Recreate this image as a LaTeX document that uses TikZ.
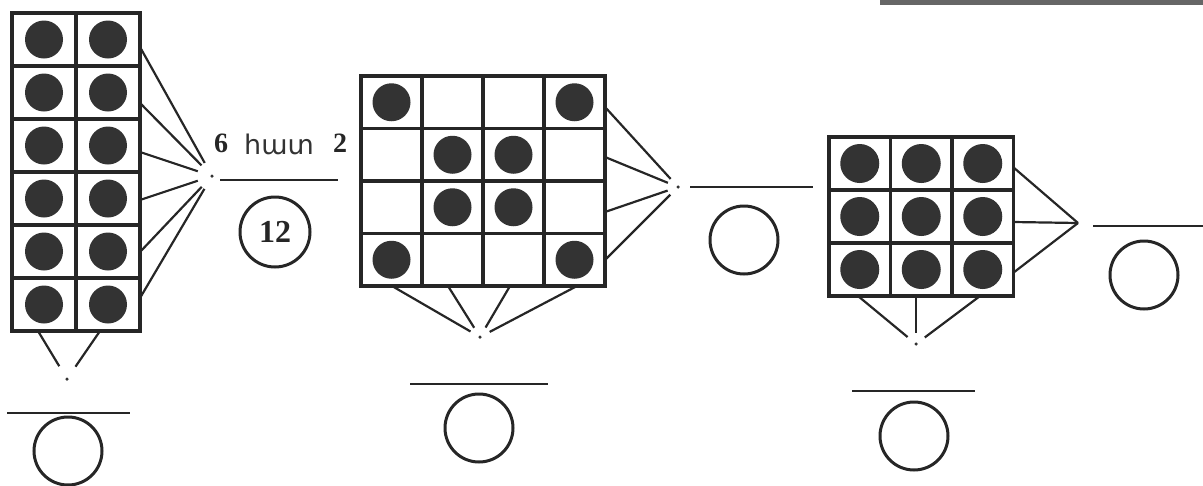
\documentclass[tikz,border=0pt]{standalone}
\usepackage{fontspec}
\setmainfont{Liberation Serif}
\newfontfamily\armfont{DejaVu Sans}
\usepackage{tikz}
\usetikzlibrary{positioning, calc}
\usepackage{xcolor}

\tikzset{
  cellbox/.style={draw=black!85, line width=3.2pt},
  counter/.style={fill=black!80},
  spoke/.style={draw=black!85, line width=2.2pt, shorten >=13pt},
  apexdot/.style={circle, fill=black!80, inner sep=0pt, minimum size=3.5pt},
  answerline/.style={draw=black!85, line width=2.6pt},
  answerring/.style={circle, draw=black!85, line width=3pt, minimum size=68pt, inner sep=0pt},
  digit/.style={font=\bfseries\fontsize{28}{30}\selectfont, text=black!85, anchor=base}
}

\begin{document}
\begin{tikzpicture}[x=1pt, y=-1pt]

  \useasboundingbox (0,0) rectangle (1203,485);
  \fill[black!60] (880,0) rectangle (1203,4.5);

  % First card: 6 rows of 2
  \foreach \r in {0,...,5}{
    \foreach \c in {0,1}{
      \draw[cellbox] ({12+\c*64},{13+\r*53}) rectangle ++(64,53);
      \fill[counter] ({44+\c*64},{39.5+\r*53}) circle (19pt);
    }
  }
  \node[apexdot] (apexA) at (212,176) {};
  \foreach \y [count=\i] in {47,103,152,200,252,298}{
    \coordinate (sideA\i) at (140,\y);
    \draw[spoke] (sideA\i) -- (apexA);
  }
  \node[apexdot] (baseA) at (67,379) {};
  \foreach \x [count=\i] in {38,100}{
    \coordinate (footA\i) at (\x,331);
    \draw[spoke] (footA\i) -- (baseA);
  }

  % Worked answer
  \node[digit] (six) at (221,152) {6};
  \node[font=\armfont\fontsize{27}{30}\selectfont, text=black!80, anchor=base] (hat) at (279,154) {հատ};
  \node[digit] (two) at (340,152) {2};
  \coordinate (lineA0) at (220,180);
  \coordinate (lineA1) at (338,180);
  \draw[answerline] (lineA0) -- (lineA1);
  \node[answerring, minimum size=70pt, font=\bfseries\fontsize{32}{34}\selectfont, text=black!85] (ringA) at (275,232) {12};

  \coordinate (lowA0) at (7,413);
  \coordinate (lowA1) at (130,413);
  \draw[answerline] (lowA0) -- (lowA1);
  \node[answerring] (ringA2) at (68,451) {};

  % Second card: 4 by 4, eight counters
  \foreach \r in {0,...,3}{
    \foreach \c in {0,...,3}{
      \draw[cellbox] ({361+\c*61},{76+\r*52.5}) rectangle ++(61,52.5);
    }
  }
  \foreach \r/\c in {0/0, 0/3, 1/1, 1/2, 2/1, 2/2, 3/0, 3/3}{
    \fill[counter] ({391.5+\c*61},{102.25+\r*52.5}) circle (19pt);
  }
  \node[apexdot] (apexB) at (678,187) {};
  \foreach \y [count=\i] in {107,157,212,260}{
    \coordinate (sideB\i) at (605,\y);
    \draw[spoke, shorten >=9pt] (sideB\i) -- (apexB);
  }
  \node[apexdot] (baseB) at (480,337) {};
  \foreach \x [count=\i] in {392,448,510,577}{
    \coordinate (footB\i) at (\x,286);
    \draw[spoke, shorten >=9pt] (footB\i) -- (baseB);
  }
  \coordinate (lineB0) at (690,187);
  \coordinate (lineB1) at (813,187);
  \draw[answerline] (lineB0) -- (lineB1);
  \node[answerring] (ringB) at (744,240) {};
  \coordinate (lowB0) at (410,384);
  \coordinate (lowB1) at (548,384);
  \draw[answerline] (lowB0) -- (lowB1);
  \node[answerring] (ringB2) at (479,428) {};

  % Third card: 3 by 3, full
  \foreach \r in {0,...,2}{
    \foreach \c in {0,...,2}{
      \draw[cellbox] ({829+\c*61.5},{137+\r*53}) rectangle ++(61.5,53);
      \fill[counter] ({859.75+\c*61.5},{163.5+\r*53}) circle (19.5pt);
    }
  }
  \coordinate (apexC) at (1078,223);
  \foreach \y [count=\i] in {167,222,273}{
    \coordinate (sideC\i) at (1013,\y);
    \draw[spoke, shorten >=0pt] (sideC\i) -- (apexC);
  }
  \node[apexdot] (baseC) at (916,344) {};
  \foreach \x [count=\i] in {858,916,980}{
    \coordinate (footC\i) at (\x,296);
    \draw[spoke, shorten >=9pt] (footC\i) -- (baseC);
  }
  \coordinate (lineC0) at (1093,226);
  \coordinate (lineC1) at (1203,226);
  \draw[answerline] (lineC0) -- (lineC1);
  \node[answerring] (ringC) at (1144,275) {};
  \coordinate (lowC0) at (852,391);
  \coordinate (lowC1) at (975,391);
  \draw[answerline] (lowC0) -- (lowC1);
  \node[answerring] (ringC2) at (914,436) {};

\end{tikzpicture}
\end{document}
